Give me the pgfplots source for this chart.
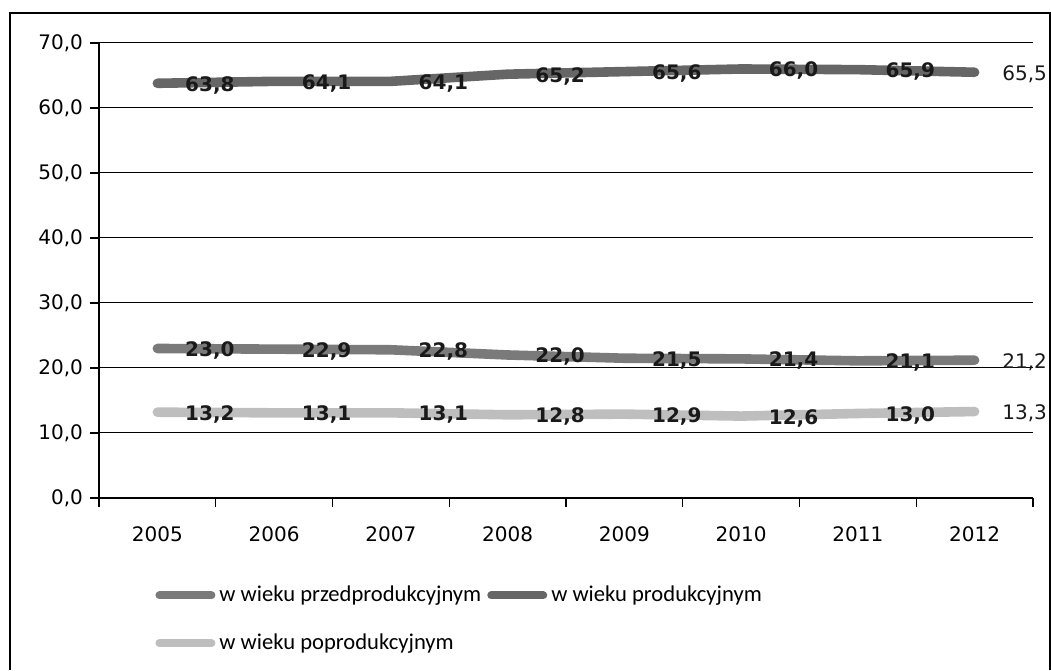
\documentclass[border=0pt]{standalone}
\usepackage{fontspec}
\setmainfont{DejaVu Sans}
\newfontfamily\legfont{Carlito}
\usepackage{pgfplots}
\pgfplotsset{compat=1.18}
\definecolor{cprzed}{HTML}{7A7A7A}
\definecolor{cprod}{HTML}{666666}
\definecolor{cpo}{HTML}{BEBEBE}
\begin{document}
\begin{tikzpicture}
\begin{axis}[
  scale only axis, width=467pt, height=227.5pt,
  xmin=-0.5, xmax=7.5, ymin=0, ymax=70,
  axis x line*=bottom, axis y line*=left,
  axis line style={black, line width=0.7pt},
  xtick={-0.5,0.5,...,7.5}, xticklabels={},
  extra x ticks={0,1,2,3,4,5,6,7},
  extra x tick labels={2005,2006,2007,2008,2009,2010,2011,2012},
  extra x tick style={major tick length=0pt, xticklabel style={yshift=-11pt}},
  ytick={0,10,...,70},
  ymajorgrids, grid style={black, line width=0.5pt},
  tick align=outside, major tick length=4.5pt,
  tick style={black, line width=0.6pt},
  tick label style={font=\fontsize{10}{12}\selectfont, text=black},
  /pgf/number format/.cd, fixed, fixed zerofill, precision=1, use comma, assume math mode=true,
  /pgfplots/.cd,
  clip=false,
  every node near coord/.append style={anchor=west, inner sep=0pt, xshift=11.5pt, yshift=-1pt, font=\fontsize{10}{12}\selectfont, text=black!90},
  legend columns=2,
  legend cell align=left,
  legend style={at={(0.06,-0.184)}, anchor=north west, draw=none, fill=none, inner sep=0pt,
    font=\legfont\fontsize{11.3}{13}\selectfont,
    /tikz/every even column/.append style={column sep=1pt},
    row sep=10.5pt},
  legend image code/.code={\draw[#1, line width=4pt, line cap=round] (2pt,0pt) -- (28pt,0pt);},
]
\addplot[color=cprzed, line width=4.8pt, line cap=round, nodes near coords, point meta=explicit symbolic]
 coordinates {(0,23.0) [\textbf{23,0}] (1,22.9) [\textbf{22,9}] (2,22.8) [\textbf{22,8}] (3,22.0) [\textbf{22,0}]
   (4,21.5) [\textbf{21,5}] (5,21.4) [\textbf{21,4}] (6,21.1) [\textbf{21,1}] (7,21.2) [21,2]};
\addlegendentry{w wieku przedprodukcyjnym}
\addplot[color=cprod, line width=4.8pt, line cap=round, nodes near coords, point meta=explicit symbolic]
 coordinates {(0,63.8) [\textbf{63,8}] (1,64.1) [\textbf{64,1}] (2,64.1) [\textbf{64,1}] (3,65.2) [\textbf{65,2}]
   (4,65.6) [\textbf{65,6}] (5,66.0) [\textbf{66,0}] (6,65.9) [\textbf{65,9}] (7,65.5) [65,5]};
\addlegendentry{w wieku produkcyjnym}
\addplot[color=cpo, line width=4.8pt, line cap=round, nodes near coords, point meta=explicit symbolic]
 coordinates {(0,13.2) [\textbf{13,2}] (1,13.1) [\textbf{13,1}] (2,13.1) [\textbf{13,1}] (3,12.8) [\textbf{12,8}]
   (4,12.9) [\textbf{12,9}] (5,12.6) [\textbf{12,6}] (6,13.0) [\textbf{13,0}] (7,13.3) [13,3]};
\addlegendentry{w wieku poprodukcyjnym}
\draw[line width=0.6pt] (rel axis cs:-0.0953,-0.378) -- (rel axis cs:-0.0953,1.0659) -- (rel axis cs:1.0182,1.0659) -- (rel axis cs:1.0182,-0.378);
\path (rel axis cs:-0.106,-0.378) rectangle (rel axis cs:1.0193,1.0945);
\end{axis}
\end{tikzpicture}
\end{document}
